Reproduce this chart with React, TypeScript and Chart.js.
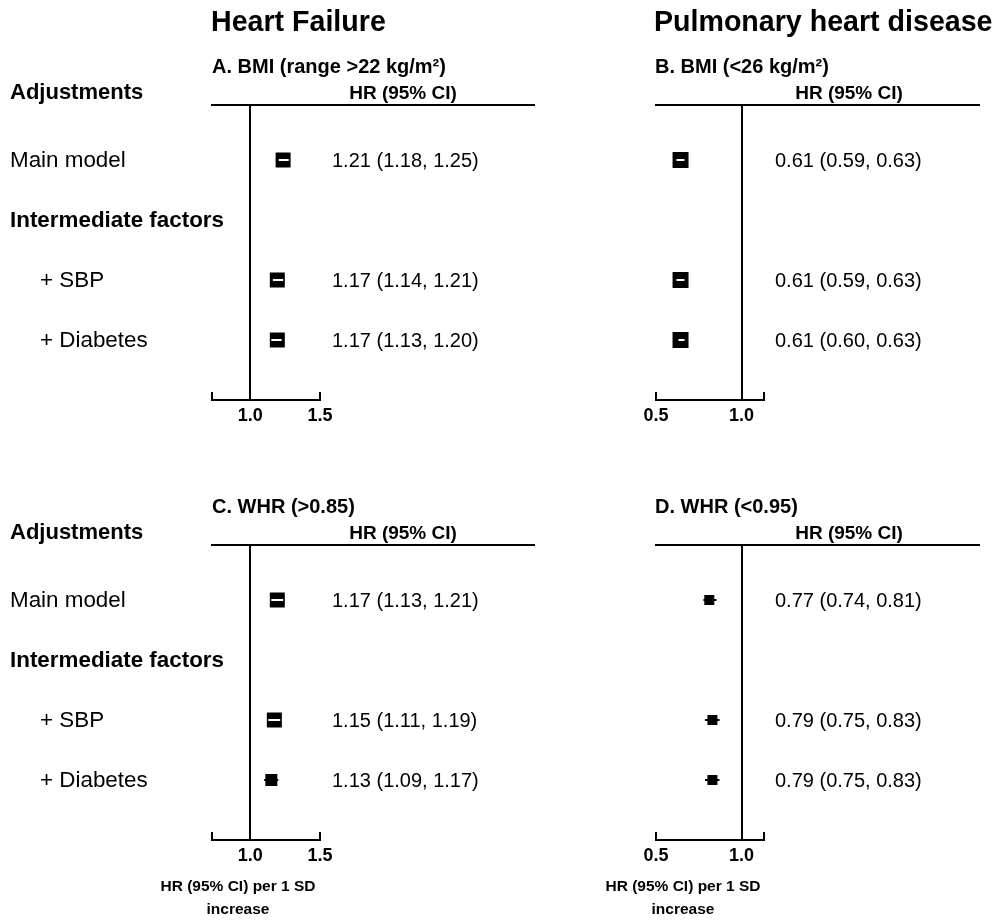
import React, { useEffect, useRef } from "react";
import { Chart, registerables } from "chart.js";

Chart.register(...registerables);

// ---------------- data ----------------
const rowLabels = ["Main model", "Intermediate factors", "+ SBP", "+ Diabetes"];
const rowLevels = [4, 3, 2, 1];
const rowIsHeading = [false, true, false, false];
const rowIndented = [false, false, true, true];

const hfBmiHR = [1.21, null, 1.17, 1.17];
const hfBmiLower = [1.18, null, 1.14, 1.13];
const hfBmiUpper = [1.25, null, 1.21, 1.2];

const phdBmiHR = [0.61, null, 0.61, 0.61];
const phdBmiLower = [0.59, null, 0.59, 0.6];
const phdBmiUpper = [0.63, null, 0.63, 0.63];

const hfWhrHR = [1.17, null, 1.15, 1.13];
const hfWhrLower = [1.13, null, 1.11, 1.09];
const hfWhrUpper = [1.21, null, 1.19, 1.17];

const phdWhrHR = [0.77, null, 0.79, 0.79];
const phdWhrLower = [0.74, null, 0.75, 0.75];
const phdWhrUpper = [0.81, null, 0.83, 0.83];

const hfAxisRange = [0.8, 1.5];
const hfTicks = [1.0, 1.5];
const phdAxisRange = [0.5, 1.2];
const phdTicks = [0.5, 1.0];
const nullLine = 1.0;

const columnTitles = ["Heart Failure", "Pulmonary heart disease"];
const panelTitles = [
  "A. BMI (range >22 kg/m²)",
  "B. BMI (<26 kg/m²)",
  "C. WHR (>0.85)",
  "D. WHR (<0.95)",
];
const headerLabel = "Adjustments";
const estimateHeader = "HR (95% CI)";
const xAxisTitle = ["HR (95% CI) per 1 SD", "increase"];

// ---------------- styling / layout ----------------
const FONT = '"Liberation Sans", Arial, Helvetica, sans-serif';
const AXIS_H = 40;
const ROW_PX = 60;

type PanelCfg = {
  hr: (number | null)[];
  lo: (number | null)[];
  hi: (number | null)[];
  range: number[];
  ticks: number[];
  title: string;
  colTitle?: string;
  showRows: boolean;
  showXTitle: boolean;
  left: number;
  top: number;
  width: number;
  height: number;
  plotLeft: number;
  plotRight: number;
  plotTop: number;
  plotBottom: number;
  headerRight: number;
  ciX: number;
  hrX: number;
  titleX: number;
  xTitleX: number;
  box: number[];
};

const panels: PanelCfg[] = [
  {
    hr: hfBmiHR, lo: hfBmiLower, hi: hfBmiUpper, range: hfAxisRange, ticks: hfTicks,
    title: panelTitles[0], colTitle: columnTitles[0], showRows: true, showXTitle: false,
    left: 0, top: 0, width: 560, height: 440,
    plotLeft: 212, plotRight: 320, plotTop: 105, plotBottom: 400,
    headerRight: 535, ciX: 332, hrX: 403, titleX: 211, xTitleX: 238,
    box: [15, 0, 15, 15],
  },
  {
    hr: phdBmiHR, lo: phdBmiLower, hi: phdBmiUpper, range: phdAxisRange, ticks: phdTicks,
    title: panelTitles[1], colTitle: columnTitles[1], showRows: false, showXTitle: false,
    left: 560, top: 0, width: 436, height: 440,
    plotLeft: 96, plotRight: 204, plotTop: 105, plotBottom: 400,
    headerRight: 420, ciX: 215, hrX: 289, titleX: 94, xTitleX: 123,
    box: [16, 0, 16, 16],
  },
  {
    hr: hfWhrHR, lo: hfWhrLower, hi: hfWhrUpper, range: hfAxisRange, ticks: hfTicks,
    title: panelTitles[2], showRows: true, showXTitle: true,
    left: 0, top: 440, width: 560, height: 480,
    plotLeft: 212, plotRight: 320, plotTop: 105, plotBottom: 400,
    headerRight: 535, ciX: 332, hrX: 403, titleX: 211, xTitleX: 238,
    box: [15, 0, 15, 12],
  },
  {
    hr: phdWhrHR, lo: phdWhrLower, hi: phdWhrUpper, range: phdAxisRange, ticks: phdTicks,
    title: panelTitles[3], showRows: false, showXTitle: true,
    left: 560, top: 440, width: 436, height: 480,
    plotLeft: 96, plotRight: 204, plotTop: 105, plotBottom: 400,
    headerRight: 420, ciX: 215, hrX: 289, titleX: 94, xTitleX: 123,
    box: [10, 0, 10, 10],
  },
];

function fmt(v: number) {
  return v.toFixed(2);
}

function drawText(
  ctx: CanvasRenderingContext2D,
  s: string,
  x: number,
  y: number,
  font: string,
  align: CanvasTextAlign = "left"
) {
  ctx.font = font;
  ctx.textAlign = align;
  ctx.textBaseline = "middle";
  ctx.fillStyle = "#000";
  ctx.fillText(s, x, y);
}

function makeForestPlugin(cfg: PanelCfg) {
  return {
    id: "forestDecor",
    beforeDatasetsDraw(chart: any) {
      const { ctx, chartArea } = chart;
      const xs = chart.scales.x;
      const ys = chart.scales.y;
      ctx.save();
      ctx.strokeStyle = "#000";
      ctx.lineWidth = 2;
      ctx.lineCap = "butt";
      ctx.lineJoin = "miter";
      const top = Math.round(chartArea.top);
      const bottom = Math.round(chartArea.bottom);
      const xMin = Math.round(xs.getPixelForValue(cfg.range[0]));
      const xMax = Math.round(xs.getPixelForValue(cfg.range[1]));
      // header rule
      ctx.beginPath();
      ctx.moveTo(xMin - 1, top);
      ctx.lineTo(cfg.headerRight, top);
      ctx.stroke();
      // null line
      const x1 = Math.round(xs.getPixelForValue(nullLine));
      ctx.beginPath();
      ctx.moveTo(x1, top);
      ctx.lineTo(x1, bottom);
      ctx.stroke();
      // axis bracket
      ctx.beginPath();
      ctx.moveTo(xMin, bottom - 8);
      ctx.lineTo(xMin, bottom);
      ctx.lineTo(xMax, bottom);
      ctx.lineTo(xMax, bottom - 8);
      ctx.stroke();
      // confidence intervals (black)
      ctx.lineCap = "square";
      cfg.hr.forEach((v, i) => {
        if (v == null) return;
        const y = ys.getPixelForValue(rowLevels[i]);
        const a = xs.getPixelForValue(cfg.lo[i] as number);
        const b = xs.getPixelForValue(cfg.hi[i] as number);
        ctx.beginPath();
        ctx.moveTo(a, y);
        ctx.lineTo(b, y);
        ctx.stroke();
      });
      ctx.restore();
    },
    afterDatasetsDraw(chart: any) {
      const { ctx } = chart;
      const xs = chart.scales.x;
      const ys = chart.scales.y;
      ctx.save();
      ctx.strokeStyle = "#fff";
      ctx.lineWidth = 2;
      cfg.hr.forEach((v, i) => {
        if (v == null) return;
        const y = ys.getPixelForValue(rowLevels[i]);
        const a = xs.getPixelForValue(cfg.lo[i] as number);
        const b = xs.getPixelForValue(cfg.hi[i] as number);
        if (b - a < cfg.box[i] - 1) {
          ctx.beginPath();
          ctx.moveTo(a, y);
          ctx.lineTo(b, y);
          ctx.stroke();
        }
      });
      ctx.restore();
    },
    afterDraw(chart: any) {
      const { ctx, chartArea } = chart;
      const ys = chart.scales.y;
      const top = chartArea.top;
      ctx.save();
      if (cfg.colTitle) drawText(ctx, cfg.colTitle, cfg.titleX, 23, `bold 28.6px ${FONT}`);
      drawText(ctx, cfg.title, cfg.titleX + 1, top - 38, `bold 20px ${FONT}`);
      drawText(ctx, estimateHeader, cfg.hrX, top - 11, `bold 19px ${FONT}`, "center");
      if (cfg.showRows) {
        drawText(ctx, headerLabel, 10, top - 12, `bold 22px ${FONT}`);
        rowLabels.forEach((lab, i) => {
          const y = ys.getPixelForValue(rowLevels[i]);
          drawText(
            ctx,
            lab,
            rowIndented[i] ? 40 : 10,
            y + 1,
            `${rowIsHeading[i] ? "bold " : ""}22.4px ${FONT}`
          );
        });
      }
      cfg.hr.forEach((v, i) => {
        if (v == null) return;
        const y = ys.getPixelForValue(rowLevels[i]);
        const s = `${fmt(v)} (${fmt(cfg.lo[i] as number)}, ${fmt(cfg.hi[i] as number)})`;
        drawText(ctx, s, cfg.ciX, y + 1, `20px ${FONT}`);
      });
      if (cfg.showXTitle) {
        drawText(ctx, xAxisTitle[0], cfg.xTitleX, 447, `bold 15.5px ${FONT}`, "center");
        drawText(ctx, xAxisTitle[1], cfg.xTitleX, 470, `bold 15.5px ${FONT}`, "center");
      }
      ctx.restore();
    },
  };
}

function ForestPanel({ cfg }: { cfg: PanelCfg }) {
  const ref = useRef<HTMLCanvasElement>(null);
  useEffect(() => {
    if (!ref.current) return;
    const points: { x: number; y: number }[] = [];
    const radii: number[] = [];
    cfg.hr.forEach((v, i) => {
      if (v == null) return;
      points.push({ x: v, y: rowLevels[i] });
      radii.push(cfg.box[i] / Math.SQRT2);
    });
    const chart = new Chart(ref.current, {
      type: "scatter",
      data: {
        datasets: [
          {
            data: points,
            pointStyle: "rect",
            pointRadius: radii,
            pointHoverRadius: radii,
            backgroundColor: "#000",
            borderColor: "#000",
            borderWidth: 0,
            pointBorderWidth: 0,
          } as any,
        ],
      },
      options: {
        responsive: false,
        animation: false,
        devicePixelRatio: 1,
        events: [],
        layout: {
          padding: {
            left: cfg.plotLeft,
            right: cfg.width - cfg.plotRight,
            top: cfg.plotTop,
            bottom: cfg.height - cfg.plotBottom - AXIS_H,
          },
        },
        plugins: {
          legend: { display: false },
          tooltip: { enabled: false },
        },
        scales: {
          x: {
            type: "logarithmic",
            min: cfg.range[0],
            max: cfg.range[1],
            bounds: "data",
            grid: { display: false, drawTicks: false },
            border: { display: false },
            ticks: {
              color: "#000",
              font: { family: FONT, size: 18, weight: "bold" },
              padding: 5,
              autoSkip: false,
              maxRotation: 0,
              callback: (v: any) => Number(v).toFixed(1),
            },
            afterBuildTicks: (s: any) => {
              s.ticks = cfg.ticks.map((v) => ({ value: v }));
            },
            afterFit: (s: any) => {
              s.height = AXIS_H;
            },
          },
          y: {
            type: "linear",
            min: 0,
            max: (cfg.plotBottom - cfg.plotTop) / ROW_PX,
            display: false,
          },
        },
      } as any,
      plugins: [makeForestPlugin(cfg)],
    });
    return () => chart.destroy();
  }, [cfg]);
  return (
    <canvas
      ref={ref}
      width={cfg.width}
      height={cfg.height}
      style={{
        position: "absolute",
        left: cfg.left,
        top: cfg.top,
        width: cfg.width,
        height: cfg.height,
      }}
    />
  );
}

export default function App() {
  return (
    <div
      style={{
        position: "absolute",
        left: 0,
        top: 0,
        width: 996,
        height: 920,
        background: "#fff",
      }}
    >
      {panels.map((p, i) => (
        <ForestPanel key={i} cfg={p} />
      ))}
    </div>
  );
}
